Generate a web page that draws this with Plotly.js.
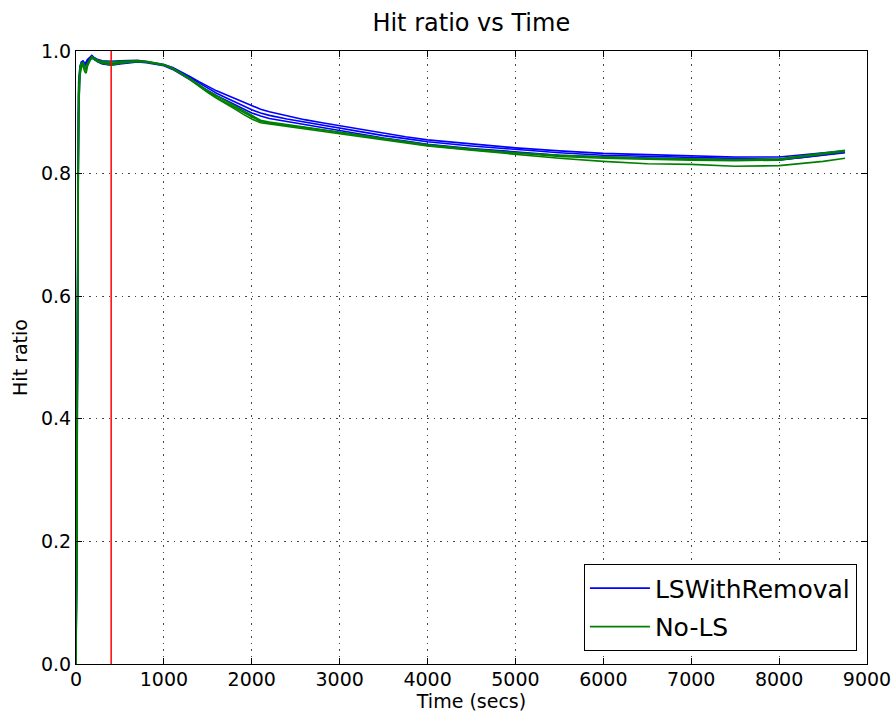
<!DOCTYPE html>
<html>
<head>
<meta charset="utf-8">
<script src="https://cdn.plot.ly/plotly-3.0.1.min.js"></script>
<style>html,body{margin:0;padding:0;background:#fff;}#chart{width:896px;height:713px;}</style>
</head>
<body>
<div id="chart"></div>
<script>
// Time (secs)
var t = [0, 10, 20, 30, 45, 60, 80, 100, 115, 130, 160, 180, 200, 250, 300, 400, 500, 600, 700, 800, 900, 1000, 1100, 1200, 1300, 1400, 1500, 1600, 1700, 1800, 1900, 2000, 2100, 2200, 2400, 2600, 2800, 3000, 3250, 3500, 3750, 4000, 4500, 5000, 5500, 6000, 6500, 7000, 7500, 8000, 8250, 8500, 8750];

// LSWithRemoval runs
var blueA = [0, 0.30, 0.78, 0.95, 0.975, 0.982, 0.984, 0.980, 0.982, 0.986, 0.990, 0.993, 0.990, 0.986, 0.984, 0.983, 0.984, 0.985, 0.985, 0.983, 0.981, 0.978, 0.973, 0.966, 0.958, 0.950, 0.942, 0.935, 0.929, 0.923, 0.917, 0.910, 0.905, 0.901, 0.894, 0.888, 0.883, 0.878, 0.872, 0.866, 0.860, 0.855, 0.848, 0.842, 0.837, 0.833, 0.831, 0.829, 0.827, 0.827, 0.830, 0.834, 0.837];
var blueB = [0, 0.25, 0.72, 0.93, 0.970, 0.978, 0.980, 0.978, 0.980, 0.984, 0.988, 0.991, 0.989, 0.984, 0.981, 0.979, 0.980, 0.982, 0.983, 0.982, 0.980, 0.977, 0.971, 0.964, 0.956, 0.948, 0.939, 0.931, 0.924, 0.917, 0.910, 0.904, 0.899, 0.895, 0.889, 0.884, 0.879, 0.874, 0.868, 0.862, 0.857, 0.852, 0.845, 0.839, 0.834, 0.830, 0.828, 0.826, 0.824, 0.823, 0.826, 0.830, 0.834];
var blueC = [0, 0.20, 0.65, 0.90, 0.965, 0.975, 0.978, 0.976, 0.978, 0.982, 0.986, 0.989, 0.987, 0.982, 0.979, 0.977, 0.979, 0.981, 0.982, 0.981, 0.979, 0.976, 0.970, 0.962, 0.953, 0.944, 0.935, 0.927, 0.920, 0.913, 0.905, 0.899, 0.894, 0.890, 0.885, 0.880, 0.875, 0.870, 0.864, 0.858, 0.853, 0.848, 0.841, 0.835, 0.830, 0.827, 0.825, 0.824, 0.822, 0.822, 0.826, 0.831, 0.835];

// No-LS runs
var greenA = [0, 0.22, 0.70, 0.93, 0.975, 0.980, 0.975, 0.966, 0.964, 0.975, 0.985, 0.990, 0.988, 0.983, 0.980, 0.977, 0.980, 0.982, 0.983, 0.982, 0.980, 0.977, 0.971, 0.963, 0.953, 0.942, 0.932, 0.923, 0.915, 0.906, 0.897, 0.889, 0.883, 0.881, 0.878, 0.874, 0.870, 0.866, 0.860, 0.855, 0.850, 0.845, 0.838, 0.831, 0.825, 0.820, 0.816, 0.815, 0.812, 0.813, 0.816, 0.820, 0.825];
var greenB = [0, 0.28, 0.75, 0.94, 0.970, 0.978, 0.982, 0.975, 0.970, 0.980, 0.987, 0.991, 0.989, 0.985, 0.983, 0.982, 0.983, 0.984, 0.984, 0.983, 0.981, 0.978, 0.972, 0.964, 0.955, 0.945, 0.935, 0.927, 0.919, 0.911, 0.903, 0.895, 0.887, 0.884, 0.880, 0.876, 0.872, 0.868, 0.862, 0.857, 0.852, 0.847, 0.840, 0.834, 0.830, 0.827, 0.825, 0.824, 0.823, 0.824, 0.829, 0.834, 0.838];
var greenC = [0, 0.18, 0.62, 0.90, 0.960, 0.972, 0.978, 0.972, 0.968, 0.978, 0.985, 0.989, 0.987, 0.983, 0.981, 0.980, 0.981, 0.982, 0.983, 0.982, 0.980, 0.977, 0.971, 0.963, 0.954, 0.943, 0.933, 0.924, 0.916, 0.908, 0.900, 0.892, 0.885, 0.882, 0.879, 0.875, 0.871, 0.867, 0.861, 0.856, 0.851, 0.846, 0.839, 0.833, 0.828, 0.825, 0.823, 0.822, 0.821, 0.822, 0.827, 0.832, 0.836];

// Marker line (warm-up end)
var markerX = [400, 400];
var markerY = [0, 1];

var seriesNames = ["LSWithRemoval", "No-LS"];
var xTicks = [0, 1000, 2000, 3000, 4000, 5000, 6000, 7000, 8000, 9000];
var yTicks = [0.0, 0.2, 0.4, 0.6, 0.8, 1.0];

var BLUE = "#0000ff", GREEN = "#008000", RED = "#ff0000";
function tr(y, color, name, group, show) {
  return {x: t, y: y, type: "scatter", mode: "lines", name: name, showlegend: show,
          legendgroup: group, line: {color: color, width: 1.6}, hoverinfo: "skip"};
}
var data = [
  tr(blueA, BLUE, seriesNames[0], "a", true),
  tr(blueB, BLUE, seriesNames[0], "a", false),
  tr(blueC, BLUE, seriesNames[0], "a", false),
  tr(greenA, GREEN, seriesNames[1], "b", true),
  tr(greenB, GREEN, seriesNames[1], "b", false),
  tr(greenC, GREEN, seriesNames[1], "b", false),
  {x: markerX, y: markerY, type: "scatter", mode: "lines", showlegend: false,
   line: {color: RED, width: 1.5}, hoverinfo: "skip"}
];

var FONT = "DejaVu Sans, sans-serif";
var axisCommon = {
  showline: true, linecolor: "#000", linewidth: 1, mirror: "ticks",
  ticks: "inside", ticklen: 6, tickcolor: "#000", tickwidth: 1,
  showgrid: true, gridcolor: "#444", gridwidth: 1, griddash: "1.5px,5px",
  zeroline: false, tickfont: {family: FONT, size: 19, color: "#000"}
};
var layout = {
  width: 896, height: 713,
  margin: {l: 76, r: 29, t: 51, b: 49},
  paper_bgcolor: "#fff", plot_bgcolor: "#fff",
  font: {family: FONT, color: "#000"},
  title: {text: "Hit ratio vs Time", font: {family: FONT, size: 24, color: "#000"},
          x: 0.526, xanchor: "center", y: 0.968, yanchor: "middle", yref: "container"},
  xaxis: Object.assign({}, axisCommon, {
    range: [0, 9000], tickvals: xTicks, ticktext: xTicks.map(String),
    ticklabelstandoff: -2,
    title: {text: "Time (secs)", font: {family: FONT, size: 19, color: "#000"}, standoff: 0}
  }),
  yaxis: Object.assign({}, axisCommon, {
    range: [0, 1.0], tickvals: yTicks, ticktext: yTicks.map(function(v){return v.toFixed(1);}),
    title: {text: "Hit ratio", font: {family: FONT, size: 19, color: "#000"}, standoff: 8}
  }),
  legend: {x: 0.987, y: 0.021, xanchor: "right", yanchor: "bottom",
           bgcolor: "#fff", bordercolor: "#000", borderwidth: 1.2, tracegroupgap: 3,
           font: {family: FONT, size: 25, color: "#000"}, itemwidth: 60},
  showlegend: true
};
Plotly.newPlot("chart", data, layout, {displayModeBar: false, staticPlot: true});
</script>
</body>
</html>
